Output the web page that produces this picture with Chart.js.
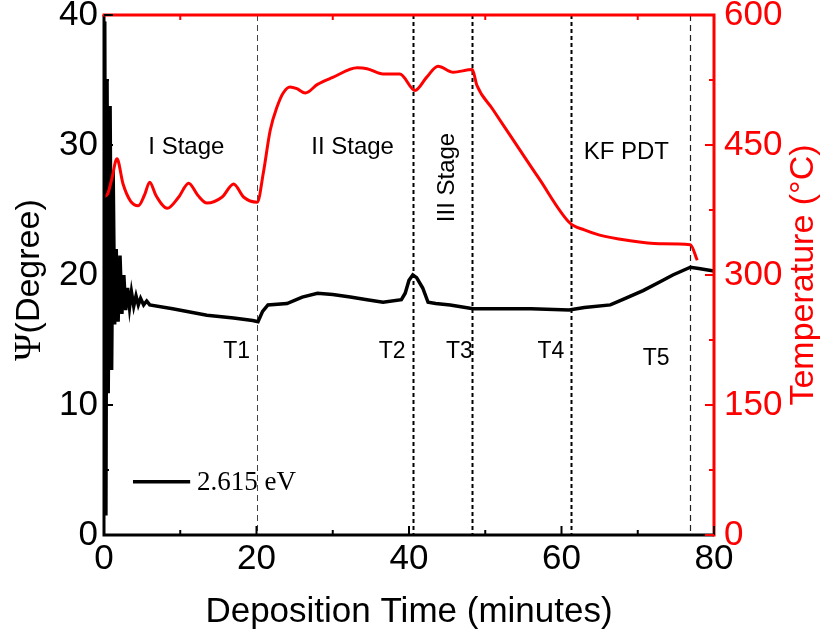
<!DOCTYPE html>
<html>
<head>
<meta charset="utf-8">
<script src="https://cdn.jsdelivr.net/npm/chart.js@4"></script>
<style>
  html, body { margin: 0; padding: 0; background: #fff; }
  #wrap { width: 822px; height: 640px; position: relative; }
</style>
</head>
<body>
<div id="wrap"><canvas id="psi-chart"></canvas></div>
<script>
(function () {
  "use strict";

  // Ψ (degree) trace at 2.615 eV
  const psiTime = [0, 0.1, 0.25, 0.4, 0.55, 0.8, 1.0, 1.2, 1.4, 1.6, 1.85, 2.1, 2.35, 2.6, 2.85, 3.1, 3.35, 3.6, 3.9, 4.2, 4.5, 4.8, 5.2, 5.6, 6.0,
    9.0, 13.5, 17.0, 19.5, 20.2, 20.8, 21.5, 24.0, 26.0, 28.0, 30.0, 32.3, 34.5, 36.6, 39.0, 39.5, 40.0, 40.5, 41.0, 41.8, 42.5, 43.5, 45.4,
    48.4, 52.0, 56.0, 61.0, 63.0, 66.4, 68.0, 70.7, 73.0, 74.6, 76.9, 78.0, 80.0];
  const psiValues = [39.5, 39, 1.5, 35, 10.9, 33, 12.7, 28, 16.2, 22, 16.4, 21.5, 17.0, 20.0, 17.3, 19.0, 17.5, 18.7, 17.6, 18.4, 17.7, 18.2, 17.7, 18.0, 17.7,
    17.4, 16.9, 16.7, 16.5, 16.4, 17.2, 17.7, 17.8, 18.3, 18.6, 18.5, 18.3, 18.1, 17.9, 18.1, 18.6, 19.6, 20.0, 19.8, 19.0, 17.9, 17.8, 17.7,
    17.4, 17.4, 17.4, 17.3, 17.5, 17.7, 18.1, 18.8, 19.5, 20.0, 20.6, 20.5, 20.3];

  // substrate temperature (°C)
  const tempTime = [0, 0.5, 1.0, 1.7, 2.5, 3.5, 4.5, 5.3, 6.0, 6.8, 8.3, 9.8, 11.1, 12.3, 13.5, 15.5, 17.0, 18.3, 20.1,
    20.9, 21.8, 22.7, 23.5, 24.4, 25.3, 26.4, 28.0, 30.0, 33.2, 34.5, 36.6, 38.8, 40.8, 42.3, 43.8, 45.8, 48.3, 48.9,
    51.0, 53.2, 57.0, 61.1, 63.0, 65.0, 68.6, 72.9, 76.9, 77.8];
  const tempValues = [390, 394, 410, 434, 405, 385, 380, 392, 407, 392, 377, 390, 406, 392, 383, 390, 405, 390, 384,
    418, 467, 494, 510, 517, 515, 510, 520, 528, 539, 538, 532, 532, 513, 528, 541, 534, 537, 519,
    491, 462, 412, 360, 352, 346, 340, 336, 335, 317];

  // tick labels
  const timeTicks = [0, 20, 40, 60, 80];
  const psiTicks = [0, 10, 20, 30, 40];
  const tempTicks = [0, 150, 300, 450, 600];

  // transition times T1..T5 and stage names
  const markerTimes = [20, 40.5, 48.3, 61.2, 76.8];
  const markerNames = ["T1", "T2", "T3", "T4", "T5"];
  const stageNames = ["I Stage", "II Stage", "III Stage", "KF PDT"];
  const legendText = "2.615 eV";

  const SANS = "'Liberation Sans', Arial, sans-serif";
  const SERIF = "'Liberation Serif', 'Times New Roman', serif";
  const RED = "#ff0000";

  // where the annotation texts sit, in data units (time, Ψ)
  const stageAnchors = [[10.8, 29.8, 0], [32.6, 29.8, 0], [45.0, 27.5, -90], [68.5, 29.4, 0]];
  const markerAnchors = [[17.4, 14.1], [37.8, 14.1], [46.6, 14.1], [58.6, 14.1], [72.4, 13.6]];
  const markerLook = [
    { width: 1, dash: [6, 4], color: "#444" },
    { width: 2, dash: [4, 3], color: "#000" },
    { width: 2, dash: [4, 3], color: "#000" },
    { width: 2, dash: [4, 3], color: "#000" },
    { width: 1.2, dash: [6, 4], color: "#222" },
  ];

  function inTicks(ctx, scale, values, len, side, area) {
    values.forEach((v) => {
      const p = scale.getPixelForValue(v);
      ctx.beginPath();
      if (side === "bottom") { ctx.moveTo(p, area.bottom); ctx.lineTo(p, area.bottom - len); }
      if (side === "top") { ctx.moveTo(p, area.top); ctx.lineTo(p, area.top + len); }
      if (side === "left") { ctx.moveTo(area.left, p); ctx.lineTo(area.left + len, p); }
      if (side === "right") { ctx.moveTo(area.right, p); ctx.lineTo(area.right - len, p); }
      ctx.stroke();
    });
  }

  const decor = {
    id: "decor",
    beforeDatasetsDraw(chart) {
      const { ctx, chartArea: a, scales } = chart;
      ctx.save();
      markerTimes.forEach((t, i) => {
        const px = Math.round(scales.x.getPixelForValue(t)) + 0.5;
        const look = markerLook[i];
        ctx.strokeStyle = look.color;
        ctx.lineWidth = look.width;
        ctx.setLineDash(look.dash);
        ctx.beginPath();
        ctx.moveTo(px, a.top);
        ctx.lineTo(px, a.bottom);
        ctx.stroke();
      });
      ctx.restore();
    },
    afterDraw(chart) {
      const { ctx, chartArea: a, scales } = chart;
      const x = scales.x, y = scales.y, y1 = scales.y1;
      ctx.save();

      // frame: black left/bottom, red top/right
      ctx.lineWidth = 3;
      ctx.strokeStyle = "#000";
      ctx.beginPath();
      ctx.moveTo(a.left, a.top);
      ctx.lineTo(a.left, a.bottom);
      ctx.lineTo(a.right, a.bottom);
      ctx.stroke();
      ctx.strokeStyle = RED;
      ctx.beginPath();
      ctx.moveTo(a.left - 1.5, a.top);
      ctx.lineTo(a.right, a.top);
      ctx.lineTo(a.right, a.bottom + 1.5);
      ctx.stroke();

      // inward ticks
      ctx.lineWidth = 2;
      ctx.strokeStyle = "#000";
      inTicks(ctx, x, timeTicks, 9, "bottom", a);
      inTicks(ctx, x, [10, 30, 50, 70], 5, "bottom", a);
      inTicks(ctx, y, psiTicks, 9, "left", a);
      inTicks(ctx, y, [5, 15, 25, 35], 5, "left", a);
      ctx.strokeStyle = RED;
      inTicks(ctx, x, [10, 30, 50, 70], 5, "top", a);
      inTicks(ctx, y1, tempTicks, 9, "right", a);
      inTicks(ctx, y1, [75, 225, 375, 525], 5, "right", a);

      // stage labels
      ctx.fillStyle = "#000";
      ctx.textAlign = "center";
      ctx.textBaseline = "middle";
      ctx.font = "24px " + SANS;
      stageNames.forEach((s, i) => {
        const [t, v, rot] = stageAnchors[i];
        ctx.save();
        ctx.translate(x.getPixelForValue(t), y.getPixelForValue(v));
        ctx.rotate(rot * Math.PI / 180);
        ctx.fillText(s, 0, 0);
        ctx.restore();
      });
      ctx.font = "23px " + SANS;
      markerNames.forEach((s, i) => {
        const [t, v] = markerAnchors[i];
        ctx.fillText(s, x.getPixelForValue(t), y.getPixelForValue(v));
      });

      // legend inside the plot
      const ly = y.getPixelForValue(4.1);
      ctx.lineWidth = 3.5;
      ctx.strokeStyle = "#000";
      ctx.beginPath();
      ctx.moveTo(x.getPixelForValue(3.8), ly);
      ctx.lineTo(x.getPixelForValue(11.3), ly);
      ctx.stroke();
      ctx.textAlign = "left";
      ctx.font = "27px " + SERIF;
      ctx.fillText(legendText, x.getPixelForValue(12.2), ly + 1);

      // left axis title: serif Ψ + "(Degree)"
      ctx.save();
      ctx.translate(30, 280);
      ctx.rotate(-Math.PI / 2);
      ctx.font = "37px " + SERIF;
      const wPsi = ctx.measureText("\u03A8").width;
      ctx.font = "34px " + SANS;
      const wRest = ctx.measureText("(Degree)").width;
      const cx = -(wPsi + wRest) / 2;
      ctx.font = "37px " + SERIF;
      ctx.fillText("\u03A8", cx, 0);
      ctx.font = "34px " + SANS;
      ctx.fillText("(Degree)", cx + wPsi, 0);
      ctx.restore();

      // right axis title, read bottom-to-top
      ctx.save();
      ctx.translate(804, 275);
      ctx.rotate(-Math.PI / 2);
      ctx.fillStyle = RED;
      ctx.textAlign = "center";
      ctx.font = "34px " + SANS;
      ctx.fillText("Temperature (\u00B0C)", 0, 0);
      ctx.restore();

      ctx.restore();
    },
  };

  const tickFont = { family: SANS, size: 35 };
  const noPad = (s) => { s.paddingTop = 0; s.paddingBottom = 0; s.paddingLeft = 0; s.paddingRight = 0; };

  new Chart(document.getElementById("psi-chart"), {
    type: "line",
    data: {
      datasets: [
        {
          label: "Temperature",
          yAxisID: "y1",
          data: tempTime.map((t, i) => ({ x: t, y: tempValues[i] })),
          borderColor: RED,
          borderWidth: 3,
          pointRadius: 0,
          cubicInterpolationMode: "monotone",
          fill: false,
        },
        {
          label: legendText,
          yAxisID: "y",
          data: psiTime.map((t, i) => ({ x: t, y: psiValues[i] })),
          borderColor: "#000",
          borderWidth: 3.5,
          pointRadius: 0,
          tension: 0,
          fill: false,
        },
      ],
    },
    options: {
      responsive: true,
      maintainAspectRatio: false,
      animation: false,
      layout: { padding: { top: 15, left: 0, right: 0, bottom: 0 } },
      plugins: { legend: { display: false }, tooltip: { enabled: false } },
      scales: {
        x: {
          type: "linear",
          min: 0,
          max: 80,
          ticks: { stepSize: 20, font: tickFont, color: "#000", padding: 3, maxRotation: 0, autoSkip: false },
          grid: { display: false, drawTicks: false },
          border: { display: false },
          title: {
            display: true,
            text: "Deposition Time (minutes)",
            font: { family: SANS, size: 35 },
            color: "#000",
            padding: { top: 0, bottom: 7 },
          },
          afterFit: (s) => { s.height = 105; noPad(s); },
        },
        y: {
          position: "left",
          min: 0,
          max: 40,
          ticks: { stepSize: 10, font: tickFont, color: "#000", padding: 6 },
          grid: { display: false, drawTicks: false },
          border: { display: false },
          afterFit: (s) => { s.width = 104; noPad(s); },
        },
        y1: {
          position: "right",
          min: 0,
          max: 600,
          ticks: { stepSize: 150, font: tickFont, color: RED, padding: 10 },
          grid: { display: false, drawTicks: false },
          border: { display: false },
          afterFit: (s) => { s.width = 108; noPad(s); },
        },
      },
    },
    plugins: [decor],
  });
})();
</script>
</body>
</html>
